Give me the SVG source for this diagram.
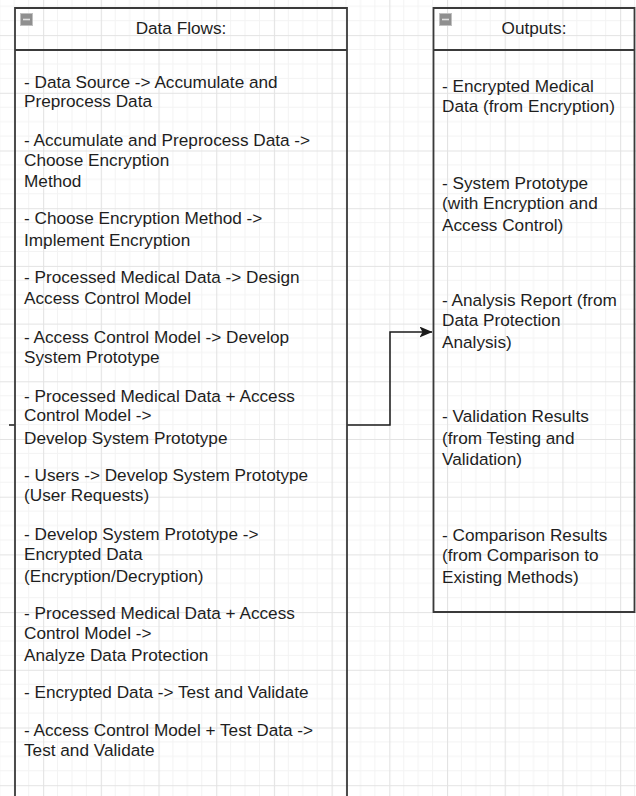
<svg xmlns="http://www.w3.org/2000/svg" width="636" height="796" viewBox="0 0 636 796">
<style>
.t{font-family:"Liberation Sans",Arial,sans-serif;font-size:17.2px;fill:#1e1e1e}
.h{font-family:"Liberation Sans",Arial,sans-serif;font-size:17.2px;fill:#1e1e1e;text-anchor:middle}
.box{fill:none;stroke:#3a3a3a;stroke-width:1.8}
.icon{fill:#8f8f8f;stroke:#c0c0c0;stroke-width:1}
.edge{fill:none;stroke:#1a1a1a;stroke-width:1.5}
</style>
<defs>
<pattern id="grid" patternUnits="userSpaceOnUse" x="43.1" y="35.1" width="57.7" height="57.7">
<path d="M14.42 0V57.7M28.85 0V57.7M43.27 0V57.7M0 14.42H57.7M0 28.85H57.7M0 43.27H57.7" stroke="#f3f3f3" stroke-width="1"/>
<path d="M0.5 0V57.7M0 0.5H57.7" stroke="#e3e3e3" stroke-width="1.2"/>
</pattern>
<marker id="arr" viewBox="0 0 13 11" refX="12.5" refY="5.5" markerWidth="13" markerHeight="11" markerUnits="userSpaceOnUse" orient="auto">
<path d="M0 0L13 5.5L0 11L3 5.5Z" fill="#1a1a1a"/>
</marker>
</defs>
<rect width="636" height="796" fill="#fff"/>
<rect width="636" height="796" fill="url(#grid)"/>
<g id="connectors">
<path class="edge" d="M347 425H390V332H432" marker-end="url(#arr)"/>
<path class="edge" d="M9 425H15"/>
</g>
<g id="data-flows">
<path class="box" d="M15 800V8H347V800M15 50H347"/>
<rect class="icon" x="20.5" y="13.5" width="12" height="12"/>
<path d="M23 19.5H30" stroke="#e0e0e0" stroke-width="1.6"/>
<text class="h" x="181" y="34">Data Flows:</text>
<text class="t" x="24" y="88">- Data Source -&gt; Accumulate and</text>
<text class="t" x="24" y="107">Preprocess Data</text>
<text class="t" x="24" y="146">- Accumulate and Preprocess Data -&gt;</text>
<text class="t" x="24" y="166">Choose Encryption</text>
<text class="t" x="24" y="187">Method</text>
<text class="t" x="24" y="224">- Choose Encryption Method -&gt;</text>
<text class="t" x="24" y="246">Implement Encryption</text>
<text class="t" x="24" y="283">- Processed Medical Data -&gt; Design</text>
<text class="t" x="24" y="304">Access Control Model</text>
<text class="t" x="24" y="343">- Access Control Model -&gt; Develop</text>
<text class="t" x="24" y="363">System Prototype</text>
<text class="t" x="24" y="402">- Processed Medical Data + Access</text>
<text class="t" x="24" y="421">Control Model -&gt;</text>
<text class="t" x="24" y="444">Develop System Prototype</text>
<text class="t" x="24" y="481">- Users -&gt; Develop System Prototype</text>
<text class="t" x="24" y="501">(User Requests)</text>
<text class="t" x="24" y="540">- Develop System Prototype -&gt;</text>
<text class="t" x="24" y="560">Encrypted Data</text>
<text class="t" x="24" y="582">(Encryption/Decryption)</text>
<text class="t" x="24" y="619">- Processed Medical Data + Access</text>
<text class="t" x="24" y="639">Control Model -&gt;</text>
<text class="t" x="24" y="661">Analyze Data Protection</text>
<text class="t" x="24" y="698">- Encrypted Data -&gt; Test and Validate</text>
<text class="t" x="24" y="736">- Access Control Model + Test Data -&gt;</text>
<text class="t" x="24" y="756">Test and Validate</text>
</g>
<g id="outputs">
<path class="box" d="M433.5 8H634.5V612H433.5ZM433.5 50H634.5"/>
<rect class="icon" x="439.5" y="13.5" width="12" height="12"/>
<path d="M442 19.5H449" stroke="#e0e0e0" stroke-width="1.6"/>
<text class="h" x="534" y="34">Outputs:</text>
<text class="t" x="442" y="92">- Encrypted Medical</text>
<text class="t" x="442" y="112">Data (from Encryption)</text>
<text class="t" x="442" y="189">- System Prototype</text>
<text class="t" x="442" y="209">(with Encryption and</text>
<text class="t" x="442" y="231">Access Control)</text>
<text class="t" x="442" y="306">- Analysis Report (from</text>
<text class="t" x="442" y="326">Data Protection</text>
<text class="t" x="442" y="348">Analysis)</text>
<text class="t" x="442" y="422">- Validation Results</text>
<text class="t" x="442" y="444">(from Testing and</text>
<text class="t" x="442" y="465">Validation)</text>
<text class="t" x="442" y="541">- Comparison Results</text>
<text class="t" x="442" y="561">(from Comparison to</text>
<text class="t" x="442" y="583">Existing Methods)</text>
</g>
</svg>
